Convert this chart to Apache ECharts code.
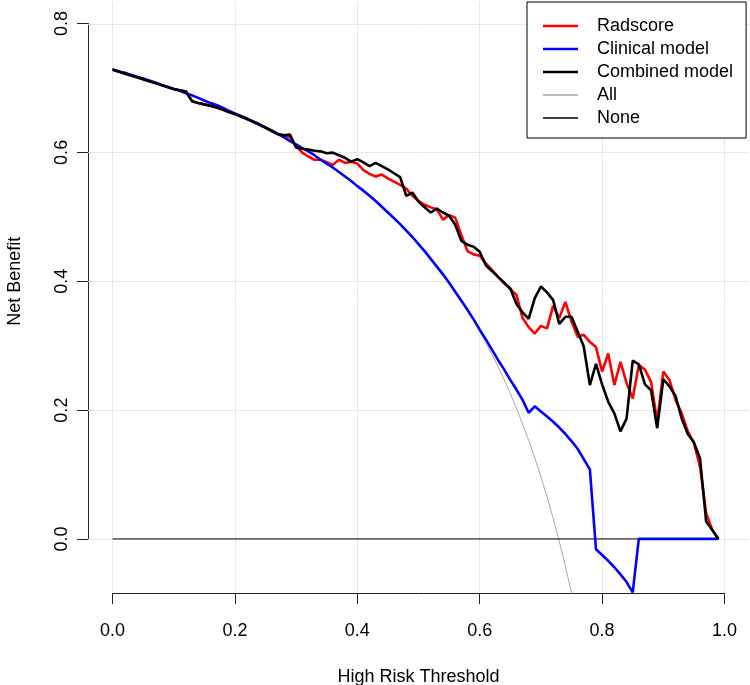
<!DOCTYPE html>
<html>
<head>
<meta charset="utf-8">
<script src="https://cdn.jsdelivr.net/npm/echarts@6/dist/echarts.min.js"></script>
<style>html,body{margin:0;padding:0;background:#fff}#c{width:750px;height:685px}</style>
</head>
<body>
<div id="c"></div>
<script>
// ---- data ----
const thresholds = [0,0.01,0.02,0.03,0.04,0.05,0.06,0.07,0.08,0.09,0.10,0.11,0.12,0.13,0.14,0.15,0.16,0.17,0.18,0.19,
0.20,0.21,0.22,0.23,0.24,0.25,0.26,0.27,0.28,0.29,0.30,0.31,0.32,0.33,0.34,0.35,0.36,0.37,0.38,0.39,
0.40,0.41,0.42,0.43,0.44,0.45,0.46,0.47,0.48,0.49,0.50,0.51,0.52,0.53,0.54,0.55,0.56,0.57,0.58,0.59,
0.60,0.61,0.62,0.63,0.64,0.65,0.66,0.67,0.68,0.69,0.70,0.71,0.72,0.73,0.74,0.75,0.76,0.77,0.78,0.79,
0.80,0.81,0.82,0.83,0.84,0.85,0.86,0.87,0.88,0.89,0.90,0.91,0.92,0.93,0.94,0.95,0.96,0.97,0.98,0.99];

const radscore = [0.729,0.726,0.723,0.720,0.717,0.714,0.711,0.708,0.705,0.702,0.699,0.697,0.695,0.680,0.677,0.675,0.673,0.670,0.667,0.663,
0.660,0.656,0.652,0.648,0.644,0.639,0.634,0.629,0.627,0.624,0.610,0.600,0.594,0.589,0.589,0.585,0.581,0.589,0.584,0.586,
0.583,0.573,0.567,0.563,0.566,0.560,0.555,0.550,0.544,0.533,0.525,0.519,0.515,0.512,0.496,0.503,0.499,0.472,0.447,0.442,
0.440,0.428,0.418,0.407,0.397,0.388,0.379,0.343,0.329,0.319,0.331,0.327,0.362,0.343,0.368,0.338,0.314,0.317,0.306,0.298,
0.260,0.288,0.239,0.275,0.242,0.218,0.270,0.263,0.244,0.182,0.260,0.247,0.216,0.195,0.167,0.149,0.112,0.040,0.014,0];

const clinical = [0.729,0.726,0.724,0.721,0.718,0.715,0.712,0.709,0.705,0.702,0.699,0.696,0.692,0.689,0.685,0.681,0.677,0.674,0.670,0.665,
0.661,0.657,0.653,0.648,0.643,0.639,0.634,0.629,0.624,0.618,0.613,0.607,0.602,0.596,0.589,0.583,0.577,0.570,0.563,0.556,
0.548,0.541,0.533,0.525,0.516,0.507,0.498,0.489,0.479,0.469,0.458,0.447,0.435,0.423,0.411,0.398,0.384,0.370,0.356,0.341,
0.325,0.310,0.294,0.278,0.263,0.247,0.232,0.216,0.196,0.206,0.198,0.190,0.182,0.173,0.163,0.152,0.140,0.124,0.108,-0.016,
-0.025,-0.034,-0.044,-0.055,-0.067,-0.083,0,0,0,0,0,0,0,0,0,0,0,0,0,0];

const combined = [0.729,0.726,0.723,0.720,0.717,0.714,0.711,0.708,0.705,0.702,0.699,0.697,0.695,0.680,0.677,0.675,0.673,0.670,0.667,0.663,
0.660,0.656,0.652,0.648,0.644,0.639,0.634,0.629,0.627,0.628,0.608,0.606,0.605,0.603,0.602,0.599,0.600,0.596,0.592,0.586,
0.590,0.585,0.579,0.584,0.579,0.574,0.568,0.562,0.533,0.538,0.524,0.515,0.507,0.513,0.507,0.502,0.488,0.463,0.457,0.454,
0.446,0.425,0.416,0.407,0.398,0.389,0.365,0.352,0.342,0.374,0.392,0.383,0.371,0.334,0.345,0.345,0.322,0.299,0.239,0.272,
0.240,0.213,0.195,0.167,0.187,0.277,0.271,0.240,0.231,0.172,0.248,0.237,0.222,0.187,0.163,0.150,0.125,0.027,0.014,0];

// "All" (treat all) is drawn until it leaves the plot region
const allValues = [0.729,0.7263,0.7235,0.7206,0.7177,0.7147,0.7117,0.7086,0.7054,0.7022,0.6989,0.6955,0.6920,0.6885,0.6849,0.6812,0.6774,0.6735,0.6695,0.6654,
0.6613,0.6570,0.6526,0.6481,0.6434,0.6387,0.6338,0.6288,0.6236,0.6183,0.6129,0.6072,0.6015,0.5955,0.5894,0.5831,0.5766,0.5698,0.5629,0.5557,
0.5483,0.5407,0.5328,0.5246,0.5161,0.5073,0.4981,0.4887,0.4788,0.4686,0.4580,0.4469,0.4354,0.4234,0.4109,0.3978,0.3841,0.3698,0.3547,0.3390,
0.3225,0.3051,0.2868,0.2676,0.2472,0.2257,0.2029,0.1788,0.1531,0.1258,0.0967,0.0655,0.0321,-0.0037,-0.0423,-0.084,-0.1292];

const noneThresholds = [0, 0.99];
const noneValues = [0, 0];

const xTicks = [0, 0.2, 0.4, 0.6, 0.8, 1.0];
const yTicks = [0, 0.2, 0.4, 0.6, 0.8];

const seriesNames = ['Radscore', 'Clinical model', 'Combined model', 'All', 'None'];
const seriesColors = ['#ff0000', '#0000ff', '#000000', '#a9a9a9', '#000000'];
const seriesWidths = [2.6, 2.6, 2.6, 1, 1];

// ---- chart ----
const pair = (xs, ys) => ys.map((v, i) => [xs[i], v]);
const FONT = '"Liberation Sans", Arial, Helvetica, sans-serif';
const chart = echarts.init(document.getElementById('c'), null, {renderer: 'canvas'});

const gridLines = xTicks.map(v => ({xAxis: v})).concat(yTicks.map(v => ({yAxis: v})));

const styleOf = name => {
  const i = seriesNames.indexOf(name);
  return {color: seriesColors[i], width: seriesWidths[i]};
};

const lineSeries = (name, xs, ys) => {
  const s = styleOf(name);
  return {
    name, type: 'line', xAxisIndex: 0, yAxisIndex: 0, data: pair(xs, ys),
    symbol: 'none', showSymbol: false, smooth: false, clip: true, z: 2,
    lineStyle: {color: s.color, width: s.width}, itemStyle: {color: s.color},
    emphasis: {disabled: true}, animation: false
  };
};

const legendData = seriesNames.map(name => {
  const s = styleOf(name);
  const h = s.width < 2 ? 1.5 : s.width;
  return {
    name,
    icon: 'path://M0,0H35V' + h + 'H0Z',
    itemStyle: {color: s.color, opacity: 1, borderWidth: 0}
  };
});

chart.setOption({
  animation: false,
  backgroundColor: '#ffffff',
  textStyle: {fontFamily: FONT},
  grid: [
    {left: 88, right: 1, top: 2, bottom: 92, containLabel: false, outerBoundsMode: 'none'},
    {left: 112.5, right: 25.5, top: 23.5, bottom: 146, containLabel: false, outerBoundsMode: 'none'}
  ],
  xAxis: [
    {type: 'value', gridIndex: 0, min: -0.04, max: 1.04, show: false},
    {type: 'value', gridIndex: 1, min: 0, max: 1, interval: 0.2, position: 'bottom', offset: 54,
     axisLine: {show: true, onZero: false, lineStyle: {color: '#222', width: 1}},
     axisTick: {show: true, inside: false, length: 11, lineStyle: {color: '#222', width: 1}},
     axisLabel: {fontSize: 18, color: '#000', margin: 29, fontFamily: FONT, formatter: v => v.toFixed(1)},
     splitLine: {show: false},
     name: 'High Risk Threshold', nameLocation: 'middle', nameGap: 75,
     nameTextStyle: {fontSize: 18, color: '#000', fontFamily: FONT}}
  ],
  yAxis: [
    {type: 'value', gridIndex: 0, min: -0.084, max: 0.834, show: false},
    {type: 'value', gridIndex: 1, min: 0, max: 0.8, interval: 0.2, position: 'left', offset: 24.5,
     axisLine: {show: true, onZero: false, lineStyle: {color: '#222', width: 1}},
     axisTick: {show: true, inside: false, length: 11, lineStyle: {color: '#222', width: 1}},
     axisLabel: {fontSize: 18, color: '#000', margin: 17, rotate: 90, fontFamily: FONT, formatter: v => v.toFixed(1)},
     splitLine: {show: false},
     name: 'Net Benefit', nameLocation: 'middle', nameGap: 64, nameRotate: 90,
     nameTextStyle: {fontSize: 18, color: '#000', fontFamily: FONT}}
  ],
  legend: {
    show: true, orient: 'vertical', left: 527, top: 2, z: 10,
    data: legendData,
    padding: [15, 13, 11, 16],
    itemWidth: 35, itemHeight: 14, itemGap: 5,
    symbolKeepAspect: true,
    borderColor: '#000', borderWidth: 1, borderRadius: 0,
    backgroundColor: '#fff',
    selectedMode: false,
    textStyle: {fontSize: 18, lineHeight: 18, color: '#000', fontFamily: FONT, padding: [0, 0, 0, 14]}
  },
  series: [
    {
      name: '__grid', type: 'line', xAxisIndex: 0, yAxisIndex: 0, data: [[-1, -1]],
      symbol: 'none', silent: true, z: 1, lineStyle: {width: 0},
      markLine: {silent: true, z: 1, symbol: ['none', 'none'], animation: false,
        label: {show: false}, lineStyle: {color: '#e8e8e8', width: 1, type: 'solid'},
        emphasis: {disabled: true}, data: gridLines}
    },
    lineSeries('All', thresholds, allValues),
    lineSeries('None', noneThresholds, noneValues),
    lineSeries('Radscore', thresholds, radscore),
    lineSeries('Clinical model', thresholds, clinical),
    lineSeries('Combined model', thresholds, combined)
  ]
});
</script>
</body>
</html>
